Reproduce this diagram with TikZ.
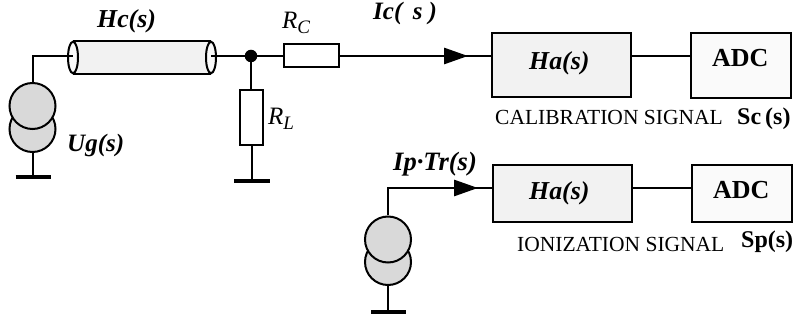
\documentclass[tikz,border=0pt]{standalone}
\usepackage{fontspec}
\setmainfont{Liberation Serif}
\usetikzlibrary{arrows.meta,shapes.geometric}
\tikzset{
  wire/.style={line width=2pt,draw=black},
  srcdisc/.style={circle,draw=black,line width=2pt,fill=black!15,minimum size=46pt,inner sep=0pt},
  groundbar/.style={line width=3.8pt,draw=black},
  resistor/.style={rectangle,draw=black,line width=2pt,fill=white,inner sep=0pt},
  hbox/.style={rectangle,draw=black,line width=2pt,fill=black!5,inner sep=0pt,minimum width=139pt},
  adcbox/.style={rectangle,draw=black,line width=2pt,fill=black!2,inner sep=0pt,minimum width=100pt},
  endcap/.style={ellipse,draw=black,line width=2pt,fill=black!2,minimum width=10pt,minimum height=31.5pt,inner sep=0pt},
  dotnode/.style={circle,fill=black,minimum size=12.5pt,inner sep=0pt},
  lbl/.style={anchor=base west,inner sep=0pt,text=black},
  flow/.style={line width=2.8pt,draw=black,-{Triangle[length=24pt,width=16pt]}},
  bi/.style={font=\fontsize{25.8}{26}\selectfont\bfseries\itshape},
  bo/.style={font=\fontsize{26}{26}\selectfont\bfseries},
  re/.style={font=\fontsize{21.5}{22}\selectfont},
  ri/.style={font=\fontsize{25}{25}\selectfont\itshape}
}
\newcommand{\subsc}[1]{\raisebox{-5pt}{\fontsize{19}{19}\selectfont #1}}
\begin{document}
\begin{tikzpicture}[x=1pt,y=-1pt]
\useasboundingbox (0,0) rectangle (796,320);
% cable
\fill[black!5] (73,41.8) rectangle (211,73.2);
\node[endcap] (cl) at (73,57.5) {};
\node[endcap] (cr) at (211,57.5) {};
\draw[wire] (cl.north) -- (cr.north);
\draw[wire] (cl.south) -- (cr.south);
% upper circuit nodes
\node[srcdisc] (s1b) at (32.5,129) {};
\node[srcdisc] (s1t) at (32.5,106) {};
\node[dotnode] (j) at (251,56) {};
\node[resistor,minimum width=55pt,minimum height=23pt] (rc) at (311.5,55.5) {};
\node[resistor,minimum width=23pt,minimum height=55pt] (rl) at (251.5,117.5) {};
\node[hbox,minimum height=64pt] (ha1) at (561.5,65) {};
\node[adcbox,minimum height=65pt] (adc1) at (741,65.5) {};
\coordinate (g1) at (32.5,177);
\coordinate (g1l) at (15.5,177);
\coordinate (g1r) at (50.5,177);
\coordinate (g2) at (251.5,181);
\coordinate (g2l) at (234,181);
\coordinate (g2r) at (269.5,181);
\coordinate (e1) at (73,56);
\coordinate (e2) at (211,56);
\coordinate (w1) at (492,56);
\coordinate (w2) at (631,56);
\coordinate (w3) at (691,56);
\coordinate (a1s) at (412,56);
\coordinate (a1t) at (468,56);
% upper connectors
\draw[wire] (s1t.north) |- (e1);
\draw[wire] (s1b.south) -- (g1);
\draw[groundbar] (g1l) -- (g1r);
\draw[wire] (e2) -- (j.center);
\draw[wire] (j.center) -- (j.center -| rc.west);
\draw[wire] (j.center) -- (j.center |- rl.north);
\draw[wire] (rl.south) -- (g2);
\draw[groundbar] (g2l) -- (g2r);
\draw[wire] (rc.east |- w1) -- (w1);
\draw[wire] (w2) -- (w3);
\draw[flow] (a1s) -- (a1t);
% lower circuit nodes
\node[srcdisc] (s2b) at (388,262) {};
\node[srcdisc] (s2t) at (388,239.5) {};
\node[hbox,minimum height=57pt] (ha2) at (562.5,193.5) {};
\node[adcbox,minimum height=57pt] (adc2) at (741.5,193.5) {};
\coordinate (g3) at (388,312);
\coordinate (g3l) at (371,312);
\coordinate (g3r) at (406,312);
\coordinate (c2) at (388,188);
\coordinate (a2s) at (422,188);
\coordinate (a2t) at (478,188);
% lower connectors
\draw[wire] (s2t.north) |- (ha2.west |- c2);
\draw[wire] (s2b.south) -- (g3);
\draw[groundbar] (g3l) -- (g3r);
\draw[wire] (ha2.east |- c2) -- (adc2.west |- c2);
\draw[flow] (a2s) -- (a2t);
% labels
\node[lbl,bi] (tHc) at (97,28) {Hc(s)};
\node[lbl,bi,font=\fontsize{25}{25}\selectfont\bfseries\itshape] (tUg) at (67,152) {Ug(s)};
\node[lbl,ri] (tRc) at (282,29) {R\subsc{C}};
\node[lbl,ri] (tRl) at (268,125) {R\subsc{L}};
\node[lbl,bi,font=\fontsize{25}{25}\selectfont\bfseries\itshape] (tIc) at (373,20) {Ic( \,s )};
\node[lbl,bi,font=\fontsize{26.5}{26}\selectfont\bfseries\itshape] (tIp) at (393,171) {Ip·Tr(s)};
\node[lbl,bi] (tHa1) at (529,70) {Ha(s)};
\node[lbl,bo] (tA1) at (712,67) {ADC};
\node[lbl,re] (tCal) at (495,125) {CALIBRATION SIGNAL};
\node[lbl,bo,font=\fontsize{24}{24}\selectfont\bfseries] (tSc) at (737,125) {Sc\,(s)};
\node[lbl,bi] (tHa2) at (529,200) {Ha(s)};
\node[lbl,bo] (tA2) at (713,199) {ADC};
\node[lbl,re] (tIon) at (517,252) {IONIZATION SIGNAL};
\node[lbl,bo,font=\fontsize{24}{24}\selectfont\bfseries] (tSp) at (741,248) {Sp(s)};
\end{tikzpicture}
\end{document}
